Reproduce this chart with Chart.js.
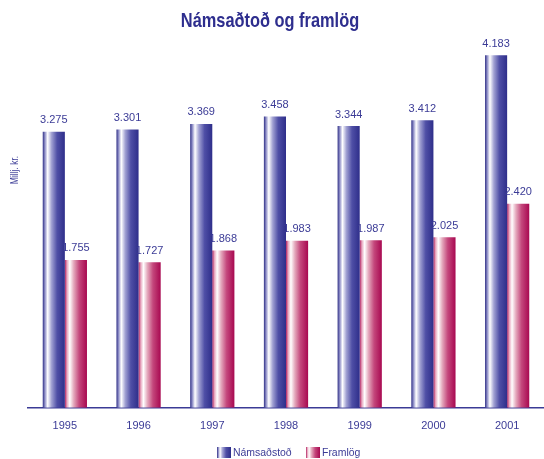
<!DOCTYPE html>
<html>
<head>
<meta charset="utf-8">
<script src="https://cdn.jsdelivr.net/npm/chart.js@4"></script>
<style>
  html, body { margin: 0; padding: 0; background: #fff; }
  #wrap { width: 544px; height: 459px; position: relative; }
</style>
</head>
<body>
<div id="wrap"><canvas id="chart"></canvas></div>
<script>
// data
const years = ["1995", "1996", "1997", "1998", "1999", "2000", "2001"];
const namsadstod = [3275, 3301, 3369, 3458, 3344, 3412, 4183];
const framlog = [1755, 1727, 1868, 1983, 1987, 2025, 2420];
const seriesNames = ["Námsaðstoð", "Framlög"];
const titleText = "Námsaðtoð og framlög";
const yTitle = "Millj. kr.";

const textBlue = "#3b3b96";
const fontFam = "'Liberation Sans', Arial, sans-serif";
const catPct = 0.6;

// gradient stops for the "cylinder" look
const stops = [
  [[0, "#2f2f86"], [0.1, "#9090c8"], [0.22, "#ffffff"], [0.4, "#a0a0d2"], [0.65, "#4f4fa6"], [1, "#2e2e8a"]],
  [[0, "#b02060"], [0.1, "#e8a8c0"], [0.22, "#ffffff"], [0.4, "#e4a8bc"], [0.65, "#c4477c"], [1, "#a80850"]],
];

function fillGrad(ctx, left, w, set) {
  const g = ctx.createLinearGradient(left, 0, left + w, 0);
  set.forEach((s) => g.addColorStop(s[0], s[1]));
  return g;
}

function barColor(c) {
  const chart = c.chart;
  const xs = chart.scales.x;
  const fallback = stops[c.datasetIndex][4][1];
  if (!xs || c.dataIndex === undefined) return fallback;
  const center = xs.getPixelForValue(c.dataIndex);
  const slot = (xs.width / years.length) * catPct / 2;
  const left = c.datasetIndex === 0 ? center - slot : center;
  if (!isFinite(left) || !isFinite(slot) || slot <= 0) return fallback;
  return fillGrad(chart.ctx, left, slot, stops[c.datasetIndex]);
}

// title, y title, value labels and legend drawn by hand
const decor = {
  id: "decor",
  afterDatasetsDraw(chart) {
    const ctx = chart.ctx;
    ctx.save();
    ctx.font = "11px " + fontFam;
    ctx.fillStyle = textBlue;
    ctx.textAlign = "center";
    ctx.textBaseline = "bottom";
    chart.data.datasets.forEach((ds, di) => {
      chart.getDatasetMeta(di).data.forEach((el, i) => {
        const v = ds.data[i].toLocaleString("de-DE");
        ctx.fillText(v, el.x, el.y - 6);
      });
    });
    ctx.restore();
  },
  afterDraw(chart) {
    const ctx = chart.ctx;
    ctx.save();
    // title, squeezed to look condensed
    ctx.fillStyle = "#2e2e8e";
    ctx.font = "bold 21px " + fontFam;
    ctx.textAlign = "center";
    ctx.textBaseline = "middle";
    ctx.translate(270, 21);
    ctx.scale(0.78, 1);
    ctx.fillText(titleText, 0, 0);
    ctx.restore();

    ctx.save();
    ctx.fillStyle = textBlue;
    ctx.font = "10px " + fontFam;
    ctx.textAlign = "center";
    ctx.textBaseline = "middle";
    ctx.translate(15, 170);
    ctx.rotate(-Math.PI / 2);
    ctx.scale(0.85, 1);
    ctx.fillText(yTitle, 0, 0);
    ctx.restore();

    // legend
    const items = [
      { x: 217, label: seriesNames[0] },
      { x: 306, label: seriesNames[1] },
    ];
    ctx.save();
    ctx.font = "11px " + fontFam;
    ctx.textBaseline = "middle";
    ctx.textAlign = "left";
    items.forEach((it, i) => {
      ctx.fillStyle = fillGrad(ctx, it.x, 14, stops[i]);
      ctx.fillRect(it.x, 447, 14, 11);
      ctx.fillStyle = textBlue;
      ctx.save();
      ctx.translate(it.x + 16, 452.5);
      ctx.scale(0.95, 1);
      ctx.fillText(it.label, 0, 0);
      ctx.restore();
    });
    ctx.restore();
  },
};

new Chart(document.getElementById("chart"), {
  type: "bar",
  data: {
    labels: years,
    datasets: [
      { label: seriesNames[0], data: namsadstod, backgroundColor: barColor },
      { label: seriesNames[1], data: framlog, backgroundColor: barColor },
    ],
  },
  options: {
    responsive: true,
    maintainAspectRatio: false,
    animation: false,
    datasets: {
      bar: { barPercentage: 1, categoryPercentage: catPct, borderWidth: 0 },
    },
    layout: { padding: { left: 28, right: 0, top: 37, bottom: 14 } },
    plugins: {
      title: { display: false },
      legend: { display: false },
      tooltip: { enabled: false },
    },
    scales: {
      x: {
        grid: { display: false, drawTicks: false },
        border: { display: true, color: "#3b3b96", width: 1.5 },
        ticks: {
          color: textBlue,
          padding: 12,
          font: { family: fontFam, size: 11 },
        },
      },
      y: {
        display: false,
        min: 0,
        max: 4400,
      },
    },
  },
  plugins: [decor],
});
</script>
</body>
</html>
